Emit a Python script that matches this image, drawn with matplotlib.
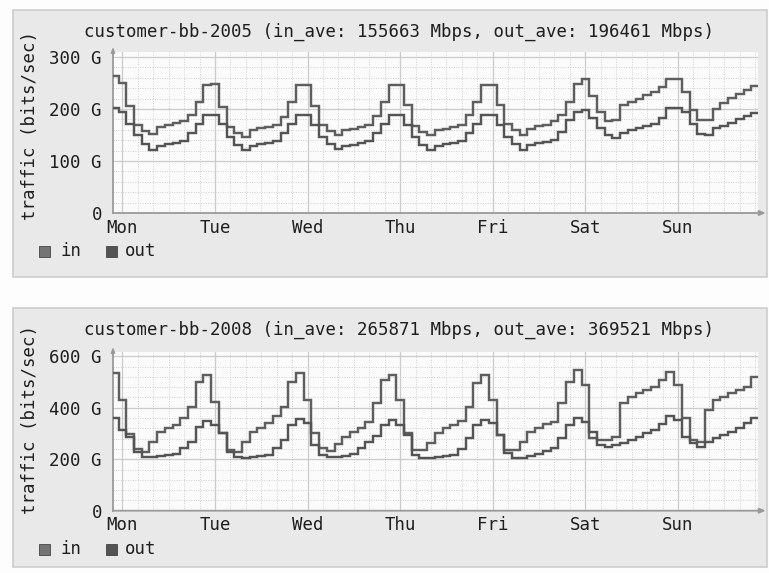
import matplotlib
matplotlib.use("Agg")
import matplotlib.pyplot as plt
from matplotlib.patches import Rectangle
from matplotlib.ticker import MultipleLocator, FixedLocator
import numpy as np

W, H = 769, 573

# ---------------- data ----------------
days = ["Mon", "Tue", "Wed", "Thu", "Fri", "Sat", "Sun"]
day_hours = [0, 24, 48, 72, 96, 120, 144]
step_hours = 2          # width of each consolidated step (hours)
first_edge = -3         # first step edge, hours relative to Monday 00:00

top_title = "customer-bb-2005 (in_ave: 155663 Mbps, out_ave: 196461 Mbps)"
# Gbps, one value per 2-hour step (step centres at -2, 0, 2, ... 164 h)
top_out = [263,
           250, 205, 170, 157, 151, 165, 169, 173, 177, 188, 214, 247,
           248, 204, 166, 153, 147, 160, 163, 166, 170, 185, 214, 246,
           246, 206, 170, 158, 150, 159, 162, 165, 169, 187, 213, 247,
           247, 207, 167, 155, 150, 159, 162, 165, 169, 188, 214, 246,
           246, 208, 172, 159, 150, 162, 167, 169, 176, 188, 214, 249,
           257, 225, 195, 177, 178, 208, 214, 220, 226, 232, 243, 257,
           257, 233, 198, 179, 179, 200, 212, 221, 229, 237, 245]
top_in = [201,
          194, 172, 150, 133, 122, 129, 132, 135, 139, 153, 172, 188,
          188, 172, 147, 131, 121, 129, 132, 135, 139, 153, 172, 188,
          188, 170, 147, 133, 123, 128, 131, 134, 138, 153, 172, 188,
          188, 169, 147, 131, 121, 129, 132, 135, 139, 153, 172, 188,
          188, 170, 147, 132, 122, 130, 134, 137, 140, 155, 178, 195,
          198, 182, 163, 150, 144, 153, 160, 163, 167, 172, 182, 201,
          201, 195, 172, 152, 150, 163, 168, 173, 180, 186, 193]

bot_title = "customer-bb-2008 (in_ave: 265871 Mbps, out_ave: 369521 Mbps)"
bot_out = [534,
           430, 298, 240, 229, 268, 307, 320, 333, 359, 404, 501, 527,
           423, 300, 236, 229, 268, 307, 320, 340, 366, 404, 501, 534,
           430, 300, 245, 233, 258, 285, 307, 322, 346, 417, 508, 527,
           430, 300, 236, 236, 262, 300, 320, 333, 350, 404, 495, 527,
           430, 294, 236, 236, 268, 307, 320, 335, 346, 417, 501, 546,
           488, 281, 275, 275, 287, 417, 443, 456, 469, 482, 508, 540,
           488, 359, 275, 268, 391, 430, 443, 456, 469, 482, 520]
bot_in = [359,
          313, 287, 229, 210, 208, 212, 216, 222, 242, 268, 326, 348,
          334, 300, 229, 210, 205, 209, 213, 218, 242, 275, 334, 355,
          339, 255, 216, 207, 210, 213, 220, 242, 268, 290, 333, 352,
          333, 294, 216, 203, 205, 208, 211, 215, 240, 281, 333, 352,
          339, 294, 223, 203, 205, 212, 220, 232, 242, 281, 333, 359,
          346, 307, 255, 246, 255, 262, 275, 287, 300, 315, 335, 368,
          352, 287, 261, 246, 268, 281, 294, 307, 320, 340, 359]

top_yticks = [0, 100, 200, 300]
top_ylabels = ["0", "100 G", "200 G", "300 G"]
bot_yticks = [0, 200, 400, 600]
bot_ylabels = ["0", "200 G", "400 G", "600 G"]
series_names = ["in", "out"]

# ---------------- style ----------------
FONT = "DejaVu Sans Mono"
FS = 12.55
TXT = "#1e1e1e"
IN_C = "#545454"
OUT_C = "#5e5e5e"
LEG_IN = "#747474"
LEG_OUT = "#535353"
BOX_FC = "#e9e9e9"
BOX_EC = "#cdcdcd"
AXIS_C = "#9a9a9a"

plt.rcParams["font.family"] = [FONT, "DejaVu Sans"]

fig = plt.figure(figsize=(W / 100, H / 100), dpi=100)
fig.patch.set_facecolor("#fdfdfd")


def fx(x):
    return x / W


def fy(y):
    return 1 - y / H


def panel(box, plot, title, title_y, v_in, v_out, yticks, ylabels, ymax,
          major, minor, ylabel_y, legend_y):
    bx0, by0, bx1, by1 = box
    fig.add_artist(Rectangle((fx(bx0), fy(by1)), fx(bx1) - fx(bx0), fy(by0) - fy(by1),
                             transform=fig.transFigure, facecolor=BOX_FC,
                             edgecolor=BOX_EC, lw=1.2, zorder=-5))
    px0, py0, px1, py1 = plot  # left, top, right, bottom(y=0)
    ax = fig.add_axes([fx(px0), fy(py1), fx(px1) - fx(px0), fy(py0) - fy(py1)])
    ax.set_facecolor("#fbfbfb")

    edges = first_edge + step_hours * np.arange(len(v_in) + 1)
    # grid
    ax.xaxis.set_major_locator(FixedLocator(day_hours))
    ax.xaxis.set_minor_locator(MultipleLocator(4))
    ax.yaxis.set_major_locator(FixedLocator(yticks))
    ax.yaxis.set_minor_locator(MultipleLocator(minor))
    ax.grid(which="minor", color="#d0d0d0", lw=0.7, ls=(0, (1, 1.5)))
    ax.grid(which="major", color="#cbcbcb", lw=0.9, ls="-")
    ax.set_axisbelow(True)

    ax.stairs(v_out, edges, color=OUT_C, lw=1.75, baseline=None, zorder=3)
    ax.stairs(v_in, edges, color=IN_C, lw=1.75, baseline=None, zorder=3)

    xl = (px0 - 122.4) / 3.858
    xr = (px1 - 122.4) / 3.858
    ax.set_xlim(xl, xr)
    ax.set_ylim(0, ymax)

    ax.set_xticklabels(days)
    ax.set_yticklabels(ylabels)
    ax.tick_params(which="both", length=0, colors=TXT, labelsize=FS)
    ax.tick_params(axis="y", pad=8.0)
    ax.tick_params(axis="x", pad=4.0)
    for lab in ax.get_xticklabels() + ax.get_yticklabels():
        lab.set_fontfamily(FONT)

    for s in ["top", "right", "bottom"]:
        ax.spines[s].set_visible(False)
    ax.spines["left"].set_color(AXIS_C)
    ax.spines["left"].set_linewidth(1.3)
    # x axis with arrow
    ax.annotate("", xy=(1.012, 0), xytext=(0, 0), xycoords="axes fraction",
                arrowprops=dict(arrowstyle="-|>,head_length=0.35,head_width=0.15",
                                color=AXIS_C, lw=1.3, shrinkA=0, shrinkB=0),
                annotation_clip=False)
    ax.annotate("", xy=(0, 1.03), xytext=(0, 0.98), xycoords="axes fraction",
                arrowprops=dict(arrowstyle="-|>,head_length=0.3,head_width=0.12",
                                color=AXIS_C, lw=1.0, shrinkA=0, shrinkB=0),
                annotation_clip=False)

    fig.text(fx(399), fy(title_y), title, ha="center", va="center",
             fontsize=FS, color=TXT, family=FONT)
    fig.text(fx(30), fy(ylabel_y), "traffic (bits/sec)", rotation=90,
             ha="center", va="center", fontsize=FS, color=TXT, family=FONT)

    # legend
    for xs, xt, col, name in [(39, 60, LEG_IN, series_names[0]),
                              (106, 125, LEG_OUT, series_names[1])]:
        fig.add_artist(Rectangle((fx(xs), fy(legend_y + 5.5)), 11 / W, 11 / H,
                                 transform=fig.transFigure, facecolor=col,
                                 edgecolor="#444444", lw=0.6))
        fig.text(fx(xt), fy(legend_y), name, ha="left", va="center",
                 fontsize=FS, color=TXT, family=FONT)
    return ax


panel((13, 10, 767, 277), (113, 52, 758, 213), top_title, 32,
      top_in, top_out, top_yticks, top_ylabels, (213 - 52) / 0.52,
      100, 20, 125, 251)
panel((13, 308, 767, 567), (113, 352, 758, 510.7), bot_title, 330,
      bot_in, bot_out, bot_yticks, bot_ylabels, (510.7 - 352) / 0.2575,
      200, 40, 420, 549)

fig.savefig("out.png", dpi=100, facecolor=fig.get_facecolor())
